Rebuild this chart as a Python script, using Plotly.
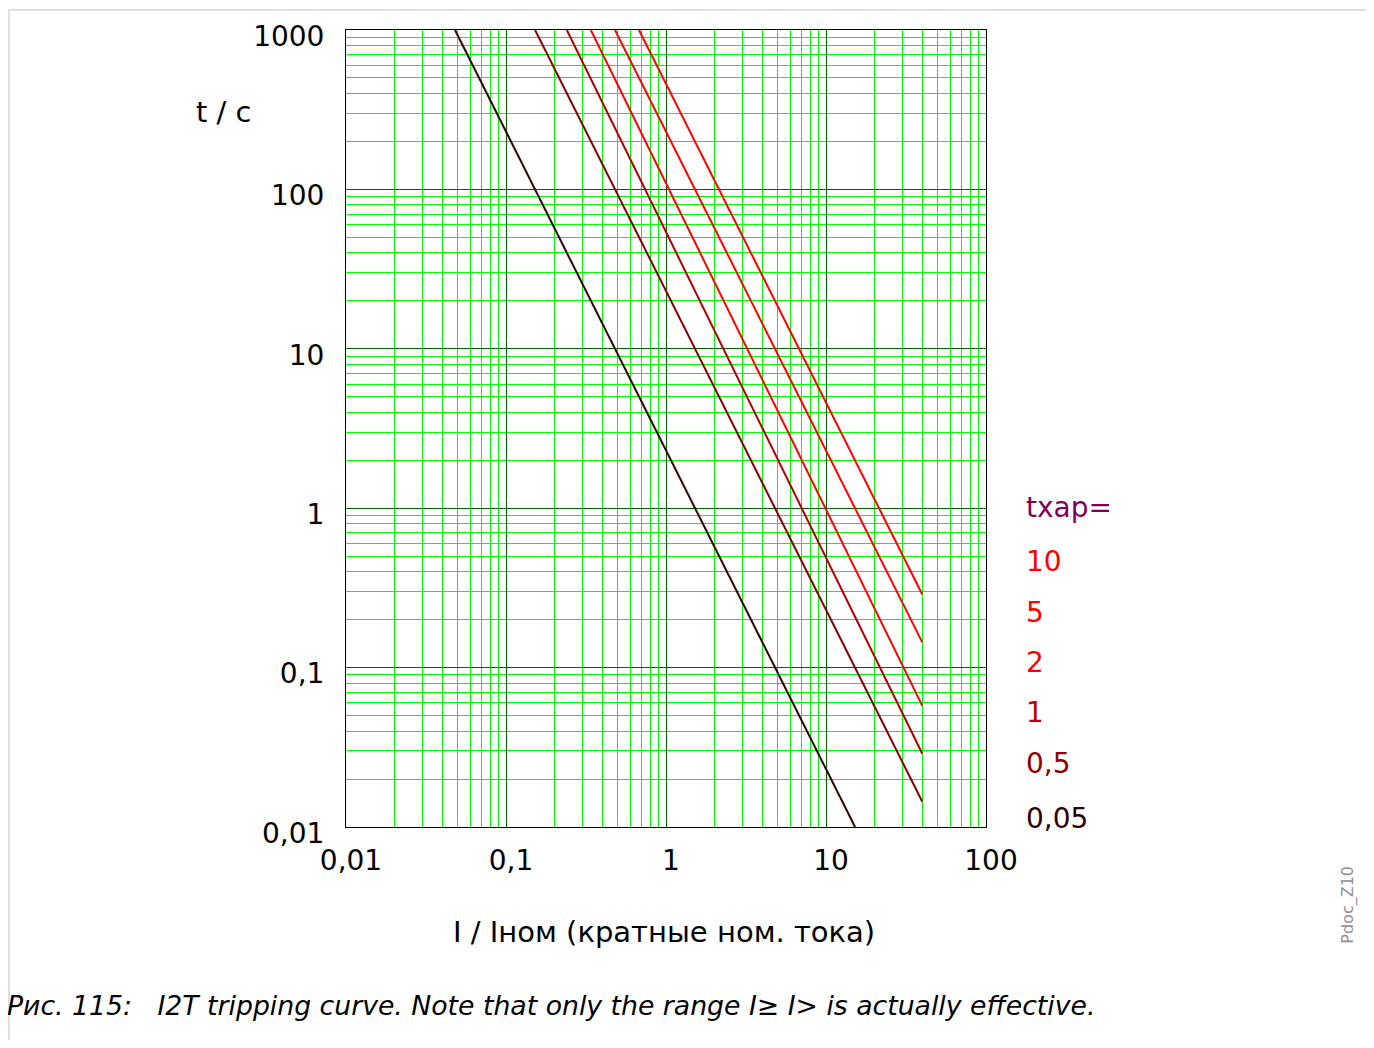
import plotly.graph_objects as go

# ---- data ----
tchar_labels = ["10", "5", "2", "1", "0,5", "0,05"]
i_start = [0.678, 0.48, 0.339, 0.24, 0.152, 0.048]
t_start = [1000, 1000, 1000, 1000, 1000, 1000]
i_end = [40, 40, 40, 40, 40, 15.2]
t_end = [0.2875, 0.144, 0.0575, 0.0288, 0.0144, 0.01]
line_colors = ["#ff0000", "#ff0000", "#ff0000", "#b00000", "#800000", "#300000"]
label_colors = ["#ff0000", "#ff0000", "#ff0000", "#c00000", "#900000", "#300000"]

x_tickvals = [0.01, 0.1, 1, 10, 100]
x_ticktext = ["0,01", "0,1", "1", "10", "100"]
y_tickvals = [0.01, 0.1, 1, 10, 100, 1000]
y_ticktext = ["0,01", "0,1", "1", "10", "100", "1000"]
minor_digits = [2, 3, 4, 5, 6, 7, 8, 9]

FONT = "DejaVu Sans"
OFF = 8  # body margin of the page

# plot area in screen pixels
PX0, PX1, PY0, PY1 = 346, 986, 27, 827
W, H = 1362, 1032


def px(sx):
    return (sx - PX0) / (PX1 - PX0)


def py(sy):
    return (PY1 - sy) / (PY1 - PY0)


def minor_vals(decades):
    return [round(d * m, 6) for d in decades[:-1] for m in minor_digits]


fig = go.Figure()
for lab, xs, ts, xe, te, c in zip(tchar_labels, i_start, t_start, i_end, t_end, line_colors):
    fig.add_trace(go.Scatter(x=[xs, xe], y=[ts, te], mode="lines",
                             line=dict(color=c, width=2), name=lab,
                             showlegend=False, hoverinfo="skip"))

axis_common = dict(
    type="log", showline=True, linecolor="black", linewidth=1, mirror=True,
    showgrid=True, gridcolor="#006400", gridwidth=1, zeroline=False,
    ticks="", tickfont=dict(family=FONT, size=28, color="black"),
    layer="below traces",
)

fig.update_xaxes(**axis_common, range=[-2, 2], tickmode="array",
                 tickvals=x_tickvals, ticktext=x_ticktext,
                 minor=dict(tickmode="array", tickvals=minor_vals(x_tickvals), showgrid=True,
                            gridcolor="#00ff00", gridwidth=1, ticks=""),
                 ticklabelstandoff=8, ticklabelshift=5)
fig.update_yaxes(**axis_common, range=[-2, 3], tickmode="array",
                 tickvals=y_tickvals, ticktext=y_ticktext,
                 minor=dict(tickmode="array", tickvals=minor_vals(y_tickvals), showgrid=True,
                            gridcolor="#00ff00", gridwidth=1, ticks=""),
                 ticklabelstandoff=15, ticklabelshift=6)

ann = []
# legend-like labels
ann.append(dict(x=px(1024), y=py(506), text="tхар=", font=dict(color="#800060", size=28, family=FONT)))
leg_y = [561, 612, 662, 712, 763, 818]
for lab, c, yy in zip(tchar_labels, label_colors, leg_y):
    ann.append(dict(x=px(1024), y=py(yy), text=lab, font=dict(color=c, size=28, family=FONT)))
for a in ann:
    a.update(xref="paper", yref="paper", xanchor="left", yanchor="middle", showarrow=False)

ann.append(dict(x=px(224), y=py(109), xref="paper", yref="paper", text="t / с", showarrow=False,
                xanchor="center", yanchor="middle", font=dict(size=29, family=FONT, color="black")))
ann.append(dict(x=px(664), y=py(932), xref="paper", yref="paper", text="I / Iном (кратные ном. тока)",
                showarrow=False, xanchor="center", yanchor="middle",
                font=dict(size=29, family=FONT, color="black")))
ann.append(dict(x=px(5), y=py(1006), xref="paper", yref="paper",
                text="<i>Рис. 115:\u00a0\u00a0\u00a0I2T tripping curve. Note that only the range I≥ I> is actually effective.</i>",
                showarrow=False, xanchor="left", yanchor="middle",
                font=dict(size=26.7, family=FONT, color="black")))
ann.append(dict(x=px(1348), y=py(905), xref="paper", yref="paper", text="Pdoc_Z10", textangle=-90,
                showarrow=False, xanchor="center", yanchor="middle",
                font=dict(size=16, family=FONT, color="#909090")))

shapes = [dict(type="rect", xref="paper", yref="paper", x0=px(9), x1=px(1368), y0=py(1070), y1=py(7),
               line=dict(color="#e0e0e0", width=2), fillcolor="rgba(0,0,0,0)", layer="above")]

fig.update_layout(
    width=W, height=H,
    margin=dict(l=PX0 - OFF, r=W - (PX1 - OFF), t=PY0 - OFF, b=H - (PY1 - OFF), pad=0),
    paper_bgcolor="white", plot_bgcolor="white",
    annotations=ann, shapes=shapes, showlegend=False,
    font=dict(family=FONT),
)

fig.write_html("out.html")
